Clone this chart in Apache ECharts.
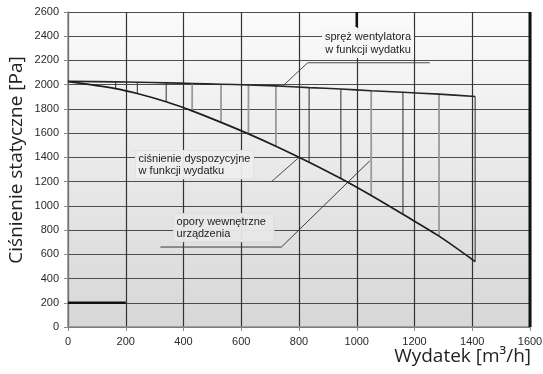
<!DOCTYPE html>
<html>
<head>
<meta charset="utf-8">
<script src="https://cdn.jsdelivr.net/npm/echarts@6/dist/echarts.min.js"></script>
<style>
  html, body { margin: 0; padding: 0; background: #ffffff; }
  #chart { width: 543px; height: 374px; }
</style>
</head>
<body>
<div id="chart"></div>
<script>
// Air flow [m3/h] at which the curves are sampled (also where the hatch lines stand)
const flow = [0, 165, 240, 340, 430, 530, 625, 720, 835, 945, 1050, 1160, 1285, 1410];
// Fan static pressure [Pa]
const fanPressure = [2028, 2023, 2020, 2015, 2010, 2004, 1998, 1990, 1976, 1964, 1950, 1937, 1922, 1903];
// Available (external) pressure [Pa]
const availPressure = [2025, 1968, 1927, 1859, 1784, 1689, 1594, 1492, 1360, 1225, 1085, 930, 750, 540];
// Hatch line shading: true = dark, false = light grey
const hatchDark = [true, true, true, true, false, false, false, false, true, true, false, true, false, true];

// Axis ticks
const xTicks = { min: 0, max: 1600, step: 200 };
const yTicks = { min: 0, max: 2600, step: 200 };

// Leader lines from the annotations to the curves
const fanLeader = [[745, 1992], [830, 2181], [1253, 2181]];
const availLeader = [[705, 1200], [800, 1400]];
const lossLeader = [[320, 660], [739, 660], [1045, 1371]];
// Emphasised segments of the frame
const topMark = [[1000, 2600], [1000, 2476]];
const baseMark = [[0, 200], [200, 200]];
const rightEdge = [[1600, 0], [1600, 2600]];

const fanData = flow.map((x, i) => [x, fanPressure[i]]);
const availData = flow.map((x, i) => [x, availPressure[i]]);
const hatchData = flow.map((x, i) => [x, fanPressure[i], availPressure[i], hatchDark[i] ? 1 : 0]).slice(1);

const tickFont = 'Liberation Sans, Arial, sans-serif';

function lineSeries(data, color, width, z) {
  return {
    type: 'line', data: data, symbol: 'none', silent: true, z: z || 3,
    lineStyle: { color: color, width: width }, animation: false
  };
}

const chart = echarts.init(document.getElementById('chart'), null, { renderer: 'canvas' });
chart.setOption({
  animation: false,
  backgroundColor: '#ffffff',
  grid: {
    left: 68, right: 13, top: 12, bottom: 47, show: true, borderWidth: 0,
    outerBoundsMode: 'none', containLabel: false,
    backgroundColor: new echarts.graphic.LinearGradient(0, 0, 0, 1, [
      { offset: 0, color: '#fbfbfb' },
      { offset: 1, color: '#d7d7d7' }
    ])
  },
  xAxis: {
    type: 'value', min: xTicks.min, max: xTicks.max, interval: xTicks.step,
    axisLine: { show: true, lineStyle: { color: '#8a8a8a', width: 1.5 } },
    axisTick: { show: true, length: 4, lineStyle: { color: '#8a8a8a' } },
    axisLabel: { color: '#2a2a2a', fontSize: 11, fontFamily: tickFont, margin: 9,
      formatter: v => String(v) },
    splitLine: { show: true, lineStyle: { color: '#333333', width: 1.2 } }
  },
  yAxis: {
    type: 'value', min: yTicks.min, max: yTicks.max, interval: yTicks.step,
    axisLine: { show: true, lineStyle: { color: '#8a8a8a', width: 1.5 } },
    axisTick: { show: true, length: 4, lineStyle: { color: '#8a8a8a' } },
    axisLabel: { color: '#2a2a2a', fontSize: 11, fontFamily: tickFont, margin: 9,
      formatter: v => String(v) },
    splitLine: { show: true, lineStyle: { color: '#4d4d4d', width: 1.2 } }
  },
  series: [
    {
      type: 'custom', data: hatchData, silent: true, z: 2,
      renderItem: function (params, api) {
        const top = api.coord([api.value(0), api.value(1)]);
        const bot = api.coord([api.value(0), api.value(2)]);
        const dark = api.value(3) === 1;
        return {
          type: 'line',
          shape: { x1: top[0], y1: top[1], x2: bot[0], y2: bot[1] },
          style: { stroke: dark ? '#2e2e2e' : '#9a9a9a', lineWidth: dark ? 1 : 1.8 }
        };
      }
    },
    Object.assign(lineSeries(fanData, '#262626', 1.6, 4), { smooth: 0.3 }),
    Object.assign(lineSeries(availData, '#1e1e1e', 1.7, 4), { smooth: 0.3 }),
    lineSeries(fanLeader, '#4a4a4a', 1, 3),
    lineSeries(availLeader, '#4a4a4a', 1, 3),
    lineSeries(lossLeader, '#3a3a3a', 1, 3),
    lineSeries(topMark, '#111111', 2.5, 3),
    lineSeries(baseMark, '#111111', 2.5, 3),
    lineSeries(rightEdge, '#111111', 3, 3)
  ],
  graphic: [
    {
      type: 'text', left: 322, top: 28, z: 10,
      style: {
        text: 'spręż wentylatora\nw funkcji wydatku', textAlign: 'center',
        font: '11px Liberation Sans, Arial, sans-serif', fill: '#222',
        lineHeight: 13, backgroundColor: 'rgba(247,247,247,0.95)',
        padding: [2, 6, 2, 6], width: 80
      }
    },
    {
      type: 'text', left: 135, top: 150, z: 10,
      style: {
        text: 'ciśnienie dyspozycyjne\nw funkcji wydatku',
        font: '11px Liberation Sans, Arial, sans-serif', fill: '#222',
        lineHeight: 12, backgroundColor: 'rgba(238,238,238,0.95)',
        borderColor: '#dcdcdc', borderWidth: 0.6, padding: [2, 3, 2, 3]
      }
    },
    {
      type: 'text', left: 173, top: 213, z: 10,
      style: {
        text: 'opory wewnętrzne\nurządzenia',
        font: '11px Liberation Sans, Arial, sans-serif', fill: '#222',
        lineHeight: 12, backgroundColor: 'rgba(232,232,232,0.95)',
        borderColor: '#d6d6d6', borderWidth: 0.6, padding: [2, 8, 2, 3]
      }
    },
    {
      type: 'text', x: 17, y: 160, rotation: Math.PI / 2, z: 10,
      style: {
        text: 'Ciśnienie statyczne [Pa]', textAlign: 'center', textVerticalAlign: 'middle',
        font: '19px "Open Sans", "Liberation Sans", sans-serif', fill: '#222'
      }
    },
    {
      type: 'text', right: 12, top: 347, z: 10,
      style: {
        text: 'Wydatek [m³/h]',
        font: '19px "Open Sans", "Liberation Sans", sans-serif', fill: '#222'
      }
    }
  ]
});
</script>
</body>
</html>
